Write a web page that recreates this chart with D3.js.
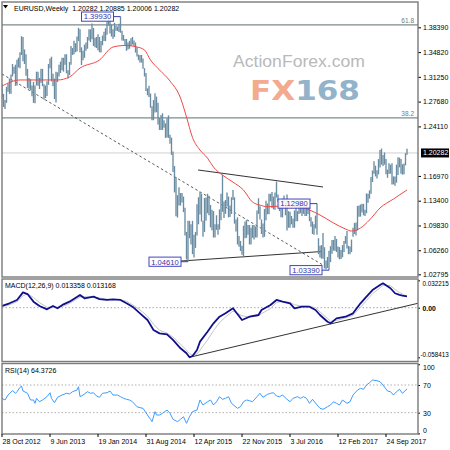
<!DOCTYPE html>
<html><head><meta charset="utf-8">
<script src="https://cdn.jsdelivr.net/npm/d3@7"></script>
<style>
body{margin:0;background:#fff}
svg{display:block;font-family:"Liberation Sans",Arial,sans-serif}
</style>
</head><body>
<svg id="c" width="450" height="450"></svg>
<script>
// ---------------- DATA ----------------
const weekLabels = ["28 Oct 2012","9 Jun 2013","19 Jan 2014","31 Aug 2014","12 Apr 2015","22 Nov 2015","3 Jul 2016","12 Feb 2017","24 Sep 2017"];
const weekLabelIdx = [0,32,64,96,128,160,192,224,256];

const highs = [
1.3015,1.2880,1.2790,1.2980,1.3030,1.3100,1.3160,1.3310,1.3270,1.3300,
1.3370,1.3400,1.3480,1.3710,1.3700,1.3520,1.3450,1.3240,1.3110,1.3090,
1.3000,1.3050,1.3000,1.3200,1.3200,1.3110,1.3240,1.3240,1.3020,1.3000,
1.3060,1.3310,1.3390,1.3415,1.3170,1.3100,1.3200,1.3190,1.3300,1.3345,
1.3400,1.3400,1.3450,1.3450,1.3220,1.3340,1.3570,1.3540,1.3645,1.3610,
1.3705,1.3832,1.3810,1.3550,1.3500,1.3590,1.3620,1.3700,1.3810,1.3810,
1.3893,1.3830,1.3690,1.3700,1.3740,1.3700,1.3640,1.3720,1.3775,1.3825,
1.3915,1.3967,1.3935,1.3880,1.3810,1.3905,1.3865,1.3850,1.3890,1.3993,
1.3790,1.3730,1.3670,1.3670,1.3620,1.3645,1.3680,1.3700,1.3650,1.3620,
1.3550,1.3445,1.3440,1.3440,1.3390,1.3250,1.3180,1.2960,1.2995,1.2885,
1.2700,1.2790,1.2890,1.2840,1.2750,1.2530,1.2575,1.2600,1.2500,1.2455,
1.2530,1.2570,1.2290,1.2250,1.2050,1.1840,1.1680,1.1420,1.1535,1.1450,
1.1450,1.1400,1.1240,1.0890,1.1050,1.1050,1.1000,1.1050,1.0850,1.0890,
1.1290,1.1390,1.1467,1.1440,1.1050,1.1380,1.1385,1.1440,1.1410,1.1280,
1.1210,1.1190,1.1000,1.1130,1.1000,1.1215,1.1440,1.1714,1.1330,1.1350,
1.1460,1.1400,1.1270,1.1390,1.1495,1.1390,1.1070,1.1100,1.0830,1.0760,
1.0690,1.0980,1.1040,1.1060,1.0990,1.0990,1.0950,1.0990,1.0990,1.0970,
1.1200,1.1376,1.1260,1.1070,1.1010,1.1220,1.1340,1.1300,1.1440,1.1440,
1.1465,1.1400,1.1460,1.1616,1.1430,1.1350,1.1240,1.1370,1.1415,1.1330,
1.1428,1.1190,1.1180,1.1120,1.1080,1.1200,1.1235,1.1190,1.1366,1.1340,
1.1240,1.1325,1.1280,1.1260,1.1260,1.1245,1.1100,1.1040,1.1000,1.1125,
1.1298,1.0800,1.0690,1.0700,1.0875,1.0670,1.0480,1.0530,1.0620,1.0685,
1.0775,1.0775,1.0830,1.0790,1.0680,1.0670,1.0630,1.0700,1.0760,1.0830,
1.0905,1.0690,1.0680,1.0780,1.0950,1.1020,1.1025,1.1265,1.1270,1.1285,
1.1295,1.1295,1.1210,1.1445,1.1440,1.1490,1.1680,1.1775,1.1910,1.1845,
1.1780,1.1940,1.2070,1.2092,1.2000,1.2035,1.1940,1.1790,1.1880,1.1860,
1.1880,1.1690,1.1690,1.1860,1.1965,1.1960,1.1940,1.1865,1.1875,1.2025,
1.20885];
const lows = [
1.2830,1.2690,1.2660,1.2750,1.2910,1.2880,1.2880,1.3130,1.3170,1.2995,
1.3000,1.3260,1.3250,1.3440,1.3350,1.3310,1.3140,1.2965,1.2955,1.2930,
1.2845,1.2750,1.2745,1.3000,1.2995,1.2950,1.3040,1.2990,1.2795,1.2820,
1.2850,1.3010,1.3250,1.3060,1.2990,1.2805,1.2755,1.3050,1.3130,1.3180,
1.3220,1.3200,1.3300,1.3175,1.3100,1.3150,1.3300,1.3440,1.3450,1.3480,
1.3490,1.3640,1.3480,1.3295,1.3365,1.3400,1.3500,1.3530,1.3650,1.3625,
1.3665,1.3570,1.3550,1.3540,1.3510,1.3480,1.3475,1.3580,1.3640,1.3640,
1.3730,1.3860,1.3750,1.3705,1.3675,1.3700,1.3790,1.3785,1.3770,1.3760,
1.3650,1.3645,1.3585,1.3500,1.3520,1.3530,1.3570,1.3590,1.3570,1.3475,
1.3420,1.3365,1.3330,1.3330,1.3240,1.3130,1.2920,1.2860,1.2835,1.2680,
1.2500,1.2500,1.2610,1.2615,1.2440,1.2360,1.2360,1.2360,1.2390,1.2245,
1.2250,1.2245,1.2160,1.2000,1.1755,1.1460,1.1115,1.1098,1.1270,1.1270,
1.1315,1.1175,1.0840,1.0495,1.0461,1.0800,1.0710,1.0570,1.0520,1.0660,
1.0840,1.1000,1.1140,1.1040,1.0820,1.0890,1.1050,1.1160,1.1130,1.0955,
1.0915,1.0810,1.0810,1.0920,1.0850,1.0925,1.1060,1.1180,1.1090,1.1150,
1.1255,1.1100,1.1105,1.1150,1.1350,1.1010,1.0895,1.0710,1.0675,1.0615,
1.0560,1.0524,1.0800,1.0805,1.0850,1.0710,1.0710,1.0805,1.0780,1.0810,
1.0810,1.1150,1.1070,1.0860,1.0810,1.0820,1.1060,1.1145,1.1145,1.1330,
1.1235,1.1215,1.1210,1.1385,1.1320,1.1190,1.1100,1.1100,1.1320,1.1130,
1.0912,1.0950,1.0950,1.1000,1.0950,1.0950,1.1045,1.1045,1.1150,1.1160,
1.1120,1.1150,1.1120,1.1120,1.1150,1.1045,1.0965,1.0860,1.0850,1.0940,
1.0850,1.0570,1.0520,1.0505,1.0505,1.0365,1.0352,1.0370,1.0339,1.0455,
1.0575,1.0620,1.0620,1.0600,1.0520,1.0495,1.0500,1.0525,1.0600,1.0720,
1.0650,1.0570,1.0570,1.0600,1.0820,1.0860,1.0840,1.0910,1.1110,1.1110,
1.1170,1.1130,1.1120,1.1160,1.1310,1.1370,1.1440,1.1610,1.1730,1.1690,
1.1660,1.1720,1.1820,1.1860,1.1840,1.1860,1.1720,1.1670,1.1725,1.1730,
1.1575,1.1575,1.1555,1.1600,1.1710,1.1820,1.1730,1.1715,1.1720,1.1850,
1.20006];

const priceTicks = [1.38390,1.34820,1.31250,1.27680,1.24110,1.16970,1.13400,1.09830,1.06260,1.02795];
const lastPrice = 1.20282;
const titleText = "EURUSD,Weekly  1.20282 1.20885 1.20006 1.20282";

const maWeek  = [0,12,19,37,45,52,65,74,82,90,95,99,105,112,119,123,127,132,137,141,147,154,161,167,172,177,187,199,205,212,221,229,233,239,245,252,261,270];
const maValue = [1.2993,1.3080,1.3080,1.3080,1.3123,1.3252,1.3368,1.3555,1.3577,1.3555,1.3512,1.3368,1.3224,1.3065,1.2820,1.2546,1.2251,1.2069,1.1954,1.1824,1.1709,1.1608,1.1493,1.1320,1.1277,1.1253,1.1264,1.1249,1.1206,1.1134,1.1019,1.0932,1.0903,1.0947,1.1062,1.1235,1.1365,1.1495];

const fibLevels = [1.3875, 1.2533];
const fibNames  = ["61.8","38.2"];

const markWeek  = [79,124,210,218];
const markPrice = [1.39930,1.04610,1.12980,1.03390];

const trendDashed = [[0,1.3166],[213.3,1.0421]];
const trendUpper  = [[130.7,1.1783],[214,1.1538]];
const trendLower  = [[118.7,1.0470],[213.3,1.0608]];

const macdWeek = [0,5,10,14,17,21,25,30,34,37,41,45,52,55,61,65,70,74,79,83,87,92,97,101,105,110,114,119,123,125,127,130,132,137,141,145,149,154,160,165,171,173,179,183,187,192,195,200,205,209,212,217,219,223,229,234,239,243,247,252,254,259,262,265,267,270];
const macdMain = [0.0020,0.0052,0.0091,0.0181,0.0161,0.0071,0.0020,-0.0019,0.0020,-0.0007,0.0040,0.0071,0.0150,0.0111,0.0130,0.0102,0.0091,0.0099,0.0091,0.0052,0.0012,-0.0066,-0.0145,-0.0263,-0.0302,-0.0313,-0.0380,-0.0478,-0.0537,-0.0584,-0.0569,-0.0498,-0.0400,-0.0283,-0.0184,-0.0106,-0.0066,-0.0007,-0.0145,-0.0106,-0.0086,-0.0027,0.0032,0.0091,0.0071,0.0052,-0.0007,0.0012,0.0012,-0.0027,-0.0086,-0.0165,-0.0184,-0.0125,-0.0106,-0.0066,0.0052,0.0130,0.0208,0.0267,0.0287,0.0229,0.0170,0.0150,0.0141,0.0134];
const macdSignal = [0.0010,0.0035,0.0070,0.0140,0.0165,0.0120,0.0060,0.0005,0.0005,0.0005,0.0020,0.0050,0.0125,0.0130,0.0125,0.0115,0.0098,0.0095,0.0095,0.0075,0.0035,-0.0025,-0.0100,-0.0195,-0.0265,-0.0300,-0.0345,-0.0430,-0.0500,-0.0540,-0.0560,-0.0545,-0.0500,-0.0380,-0.0270,-0.0175,-0.0110,-0.0040,-0.0095,-0.0110,-0.0095,-0.0070,-0.0010,0.0060,0.0075,0.0062,0.0035,0.0018,0.0015,0.0000,-0.0050,-0.0125,-0.0160,-0.0150,-0.0120,-0.0090,0.0005,0.0085,0.0165,0.0235,0.0265,0.0260,0.0215,0.0180,0.0160,0.0132];
const macdTicks = [0.032215, 0, -0.058413];
const macdTickText = ["0.032215","0.00","-0.058413"];
const macdTrend = [[125,-0.0584],[277.3,0.0052]];
const macdTitle = "MACD(12,26,9) 0.013358 0.013168";

const rsiWeek = [0,2,4,7,9,10,12,13,14,17,19,21,22,23,25,27,30,32,33,35,37,40,43,45,47,50,51,52,54,57,59,61,63,65,67,70,72,74,77,79,81,83,85,87,90,92,94,97,99,100,102,103,105,107,110,112,114,117,119,121,123,125,127,130,132,134,137,139,141,143,145,147,
149,151,153,157,159,161,163,165,167,170,172,174,177,179,181,183,185,187,190,192,194,197,199,201,203,205,207,210,212,214,217,219,221,223,225,227,230,232,234,237,239,241,243,245,247,250,252,254,257,259,261,263,265,267,270];
const rsiValue = [50.7,48.3,55.5,61.7,58.0,60.3,66.6,68.5,61.3,58.0,48.3,48.3,43.5,50.7,45.8,48.3,53.1,58.8,50.7,44.4,52.2,55.5,58.0,57.0,60.3,62.7,67.5,53.1,55.5,60.3,58.0,58.8,54.1,52.2,58.0,58.8,61.3,55.5,55.5,53.1,50.7,49.3,48.3,45.8,38.6,37.2,36.3,26.6,20.4,16.9,31.4,26.6,26.6,29.1,33.8,29.1,20.4,16.9,20.4,24.1,14.6,24.1,31.4,33.8,48.3,41.1,45.8,48.3,41.1,45.8,53.1,49.3,
50.7,53.1,43.5,36.3,38.6,45.8,48.3,47.3,45.8,53.1,58.0,52.2,56.5,58.0,58.8,54.1,53.1,55.5,49.3,45.8,50.7,53.1,50.7,53.1,50.7,43.5,49.3,41.1,36.3,34.8,38.6,41.1,45.8,43.5,41.1,48.3,43.5,45.8,55.5,62.7,65.2,63.8,70.0,73.3,77.2,76.2,74.7,70.0,61.3,60.3,55.5,60.3,63.8,58.0,64.4];
const rsiTicks = [100,70,30,0];
const rsiLevels = [70,30];
const rsiTitle = "RSI(14) 64.3726";

// ---------------- DRAW ----------------
const svg = d3.select("#c");
const L = 2, R = 418;
const x  = d3.scaleLinear().domain([0,256]).range([2,386]);
const yP = d3.scaleLinear().domain([1.02795,1.38390]).range([274.3,27.3]);
const yM = d3.scaleLinear().domain([-0.058413,0.032215]).range([357.3,280.35]);
const yR = d3.scaleLinear().domain([0,100]).range([433.4,364.25]);

const panels = {main:[2,277], macd:[279,361.5], rsi:[363.5,434]};
const defs = svg.append("defs");
Object.entries(panels).forEach(([k,[t,b]])=>{
  defs.append("clipPath").attr("id","clip-"+k).append("rect")
    .attr("x",L).attr("y",t).attr("width",R-L).attr("height",b-t);
});

svg.append("rect").attr("width",450).attr("height",450).attr("fill","#fff");

// watermark
const wm = svg.append("g");
wm.append("text").attr("x",233).attr("y",66.5).attr("font-size",17.2)
  .attr("fill","#b9b9b9").attr("textLength",132).attr("lengthAdjust","spacingAndGlyphs")
  .text("ActionForex.com");
const fx = wm.append("text").attr("x",250).attr("y",100).attr("font-size",27)
  .attr("font-weight","bold").attr("font-family","'DejaVu Sans',sans-serif")
  .attr("textLength",110).attr("lengthAdjust","spacingAndGlyphs");
fx.append("tspan").attr("fill","#f2ab8f").text("FX");
fx.append("tspan").attr("fill","#93b3ca").text("168");

// main panel
const gMain = svg.append("g").attr("clip-path","url(#clip-main)");
gMain.selectAll("line.fib").data(fibLevels).join("line").attr("class","fib")
  .attr("x1",L).attr("x2",R).attr("y1",d=>yP(d)).attr("y2",d=>yP(d))
  .attr("stroke","#7d8d8d").attr("stroke-width",1.2);
gMain.selectAll("text.fib").data(fibNames).join("text").attr("class","fib")
  .attr("x",414).attr("y",(d,i)=>yP(fibLevels[i])-2).attr("text-anchor","end")
  .attr("font-size",6.5).attr("fill","#6d7d7d").text(d=>d);
gMain.append("line").attr("x1",L).attr("x2",R).attr("y1",yP(lastPrice)).attr("y2",yP(lastPrice))
  .attr("stroke","#cfcfcf").attr("stroke-width",1);

const lineP = d3.line().x(d=>x(d[0])).y(d=>yP(d[1]));
gMain.append("path").attr("d",lineP(trendDashed)).attr("fill","none")
  .attr("stroke","#444").attr("stroke-width",0.9).attr("stroke-dasharray","2.5,2.5");
gMain.append("path").attr("d",lineP(trendUpper)).attr("fill","none").attr("stroke","#333").attr("stroke-width",1);
gMain.append("path").attr("d",lineP(trendLower)).attr("fill","none").attr("stroke","#333").attr("stroke-width",1);

// bars
gMain.append("g").selectAll("line").data(highs).join("line")
  .attr("x1",(d,i)=>x(i)).attr("x2",(d,i)=>x(i))
  .attr("y1",d=>yP(d)).attr("y2",(d,i)=>yP(lows[i]))
  .attr("stroke","#6a8ca2").attr("stroke-width",1.35);

// MA
const maPts = maWeek.map((w,i)=>[w,maValue[i]]);
gMain.append("path").attr("d",d3.line().x(d=>x(d[0])).y(d=>yP(d[1])).curve(d3.curveMonotoneX)(maPts))
  .attr("fill","none").attr("stroke","#f04848").attr("stroke-width",1);

// price marks
const mk = gMain.append("g").selectAll("g").data(markPrice).join("g");
mk.append("line").attr("x1",(d,i)=>x(markWeek[i])-7).attr("x2",(d,i)=>x(markWeek[i]))
  .attr("y1",d=>yP(d)).attr("y2",d=>yP(d)).attr("stroke","#3b3bb0").attr("stroke-width",1);
mk.append("rect").attr("x",(d,i)=>x(markWeek[i])-39).attr("y",d=>yP(d)-4.6)
  .attr("width",32).attr("height",9.2).attr("fill","#fff").attr("fill-opacity",0.85)
  .attr("stroke","#4545c0").attr("stroke-width",1);
mk.append("text").attr("x",(d,i)=>x(markWeek[i])-23).attr("y",d=>yP(d)+2.8)
  .attr("text-anchor","middle").attr("font-size",7.6).attr("fill","#3434a8")
  .text(d=>d.toFixed(5));

// title
svg.append("path").attr("d","M3,5 L8,5 L5.5,8.5 Z").attr("fill","#000");
svg.append("text").attr("x",14).attr("y",10.5).attr("font-size",7).attr("fill","#000")
  .style("white-space","pre").text(titleText);

// price axis
const ax = svg.append("g").attr("transform",`translate(${R},0)`)
  .call(d3.axisRight(yP).tickValues(priceTicks).tickSize(3).tickPadding(2).tickFormat(d3.format(".5f")));
ax.select(".domain").remove();
ax.selectAll("line").attr("stroke","#000");
ax.selectAll("text").attr("font-size",7).attr("font-family","'Liberation Sans',Arial,sans-serif");
svg.append("rect").attr("x",421).attr("y",yP(lastPrice)-4.5).attr("width",28).attr("height",9).attr("fill","#000");
svg.append("text").attr("x",423).attr("y",yP(lastPrice)+2.5).attr("font-size",7).attr("fill","#fff").text(lastPrice.toFixed(5));

// MACD panel
const gM = svg.append("g").attr("clip-path","url(#clip-macd)");
gM.append("line").attr("x1",L).attr("x2",R).attr("y1",yM(0)).attr("y2",yM(0))
  .attr("stroke","#a8a8a8").attr("stroke-dasharray","1.5,2");
gM.append("path").attr("d",d3.line().x(d=>x(d[0])).y(d=>yM(d[1]))(macdTrend))
  .attr("fill","none").attr("stroke","#333").attr("stroke-width",1);
const sigPts = macdWeek.map((w,i)=>[w,macdSignal[i]]);
const mainPts = macdWeek.map((w,i)=>[w,macdMain[i]]);
gM.append("path").attr("d",d3.line().x(d=>x(d[0])).y(d=>yM(d[1]))(sigPts))
  .attr("fill","none").attr("stroke","#c4c4c4").attr("stroke-width",1);
gM.append("path").attr("d",d3.line().x(d=>x(d[0])).y(d=>yM(d[1]))(mainPts))
  .attr("fill","none").attr("stroke","#10108c").attr("stroke-width",1.8).attr("stroke-linejoin","round");
svg.append("text").attr("x",5).attr("y",287.5).attr("font-size",7).attr("fill","#000").text(macdTitle);
const axM = svg.append("g").attr("transform",`translate(${R},0)`)
  .call(d3.axisRight(yM).tickValues(macdTicks).tickSize(2).tickPadding(2).tickFormat((d,i)=>macdTickText[i]));
axM.select(".domain").remove();
axM.selectAll("line").attr("stroke","#000");
axM.selectAll("text").attr("font-size",6.3).attr("font-family","'Liberation Sans',Arial,sans-serif")
  .attr("dy",(d,i)=> i===0 ? "0.8em" : (i===2 ? "-0.1em" : "0.35em"))
  .attr("dx",(d,i)=> i===2 ? -1.5 : 0.5);
axM.selectAll("text").filter((d,i)=>i===1).attr("font-weight","bold").attr("font-size",6.8);

// RSI panel
const gR = svg.append("g").attr("clip-path","url(#clip-rsi)");
gR.selectAll("line.lvl").data(rsiLevels).join("line").attr("class","lvl")
  .attr("x1",L).attr("x2",R).attr("y1",d=>yR(d)).attr("y2",d=>yR(d))
  .attr("stroke","#b0b0b0").attr("stroke-dasharray","1.5,2");
const rsiPts = rsiWeek.map((w,i)=>[w,rsiValue[i]]);
gR.append("path").attr("d",d3.line().x(d=>x(d[0])).y(d=>yR(d[1]))(rsiPts))
  .attr("fill","none").attr("stroke","#3d9bff").attr("stroke-width",1);
svg.append("text").attr("x",5).attr("y",372.5).attr("font-size",7).attr("fill","#000").text(rsiTitle);
const axR = svg.append("g").attr("transform",`translate(${R},0)`)
  .call(d3.axisRight(yR).tickValues(rsiTicks).tickSize(2).tickPadding(3).tickFormat(d3.format("d")));
axR.select(".domain").remove();
axR.selectAll("line").attr("stroke","#000");
axR.selectAll("text").attr("font-size",7).attr("font-family","'Liberation Sans',Arial,sans-serif")
  .attr("dy",d=> d===100 ? "0.8em" : (d===0 ? "-0.2em" : "0.35em"));

// borders
Object.values(panels).forEach(([t,b])=>{
  svg.append("rect").attr("x",L).attr("y",t).attr("width",R-L).attr("height",b-t)
    .attr("fill","none").attr("stroke","#7a7a7a").attr("stroke-width",1.4);
});

// date axis
const axD = svg.append("g").attr("transform","translate(0,434)");
axD.selectAll("line").data(weekLabelIdx).join("line")
  .attr("x1",d=>x(d)).attr("x2",d=>x(d)).attr("y1",0).attr("y2",3).attr("stroke","#000");
axD.selectAll("text").data(weekLabels).join("text")
  .attr("x",(d,i)=>x(weekLabelIdx[i])+0.5).attr("y",10).attr("font-size",7).attr("fill","#000").text(d=>d);
</script>
</body></html>
